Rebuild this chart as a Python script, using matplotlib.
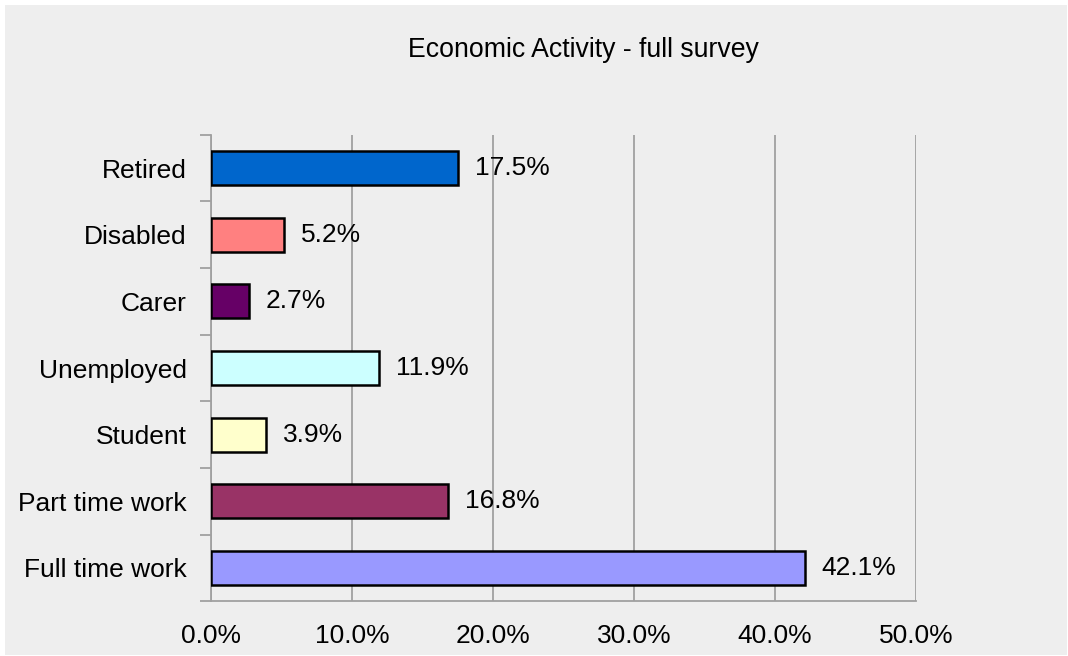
import matplotlib
matplotlib.use('Agg')
import matplotlib.pyplot as plt
from matplotlib.patches import Rectangle
from matplotlib.ticker import FuncFormatter

# data, bottom to top
categories = ['Full time work', 'Part time work', 'Student', 'Unemployed', 'Carer', 'Disabled', 'Retired']
values = [42.1, 16.8, 3.9, 11.9, 2.7, 5.2, 17.5]
colors = ['#9999FF', '#993366', '#FFFFCC', '#CCFFFF', '#660066', '#FF8080', '#0066CC']
x_ticks = [0, 10, 20, 30, 40, 50]
title = 'Economic Activity - full survey'

plt.rcParams['font.family'] = ['Liberation Sans', 'DejaVu Sans']
bg = '#EEEEEE'
grid_col = '#A0A0A0'

W, H = 1068, 656
fig = plt.figure(figsize=(W / 100, H / 100), dpi=100)
fig.patch.set_facecolor('white')
# gray chart area, thin white border round it
fig.patches.append(Rectangle((5 / W, 1 / H), (W - 6) / W, (H - 6) / H, transform=fig.transFigure,
                             facecolor=bg, edgecolor='none', zorder=-10))

ax = fig.add_axes([211 / W, 54.7 / H, (916 - 211) / W, (601.3 - 134.7) / H])
ax.set_facecolor(bg)

ypos = list(range(len(categories)))
ax.barh(ypos, values, height=0.51, color=colors, edgecolor='black', linewidth=1.8, zorder=3)
for y, v in zip(ypos, values):
    ax.text(v + 1.2, y, f'{v:.1f}%', va='center', ha='left', fontsize=19, color='black', zorder=4)

ax.set_xlim(0, 50)
ax.set_ylim(-0.5, len(categories) - 0.5)
ax.set_xticks(x_ticks)
ax.xaxis.set_major_formatter(FuncFormatter(lambda v, p: f'{v:.1f}%'))
ax.set_xticks([0, 50], minor=True)
ax.tick_params(axis='x', which='major', length=0, pad=16, labelsize=19)
ax.tick_params(axis='x', which='minor', length=8, width=1.3, color=grid_col, direction='out')

ax.set_yticks(ypos)
ax.set_yticklabels(categories)
ax.set_yticks([i - 0.5 for i in range(len(categories) + 1)], minor=True)
ax.tick_params(axis='y', which='major', length=0, pad=17.5, labelsize=19)
ax.tick_params(axis='y', which='minor', length=8, width=1.3, color=grid_col, direction='out')

ax.grid(axis='x', color=grid_col, linewidth=1.3, zorder=0)
for s in ['top', 'right']:
    ax.spines[s].set_visible(False)
for s in ['left', 'bottom']:
    ax.spines[s].set_color(grid_col)
    ax.spines[s].set_linewidth(1.3)

fig.text(583 / W, 1 - 50 / H, title, ha='center', va='center', fontsize=19.2, color='black')

fig.savefig('out.png', dpi=100, facecolor=fig.get_facecolor())
